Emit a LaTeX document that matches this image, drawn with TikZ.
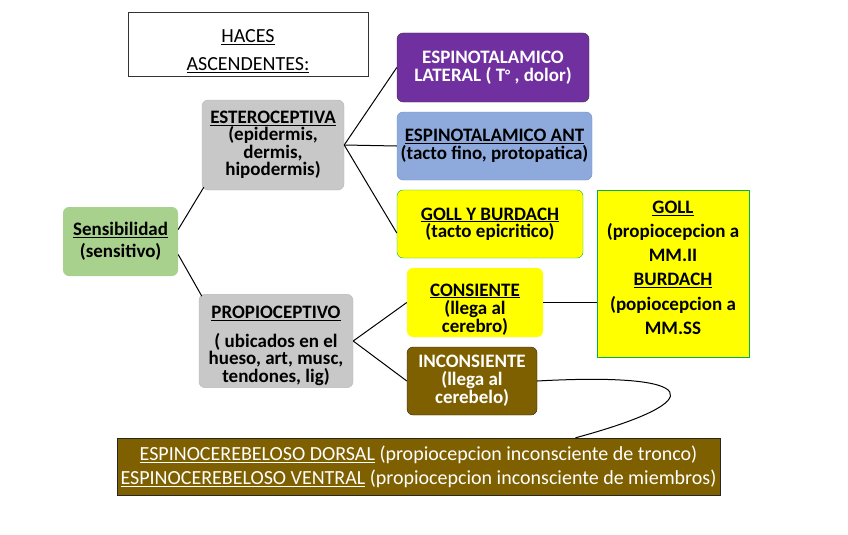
\documentclass[tikz,border=0pt]{standalone}
\usepackage{fontspec}
\setmainfont{Carlito}
\usepackage{xcolor}
\usepackage{tikz}
\usetikzlibrary{calc}
\definecolor{sverde}{HTML}{A9D18E}
\definecolor{sgris}{HTML}{C8C8C8}
\definecolor{sgrisb}{HTML}{B8B8B8}
\definecolor{smorado}{HTML}{7030A0}
\definecolor{sazul}{HTML}{8EA9DB}
\definecolor{sazulb}{HTML}{6F8FCB}
\definecolor{samarillo}{HTML}{FFFF00}
\definecolor{sborde}{HTML}{00B050}
\definecolor{scafe}{HTML}{7F6000}
\newcommand{\fs}[2]{\fontsize{#1}{#2}\selectfont}

\begin{document}
\begin{tikzpicture}[x=1pt,y=-1pt,
  caja/.style={rounded corners=6pt,align=center,inner sep=2pt,font=\bfseries},
  linea/.style={black,line width=1pt}]
  \useasboundingbox (0,0) rectangle (848,535);

  \node[draw=black!80,line width=0.8pt,align=center,minimum width=240pt,minimum height=60pt,font=\fs{20}{28}] (titulo) at (248,44) {\rule{0pt}{27pt}\underline{HACES}\\\underline{ASCENDENTES:}};

  \node[caja,fill=sverde,minimum width=115pt,minimum height=69pt,font=\bfseries\fs{19}{22}] (sens) at (120.5,241.5) {\underline{Sensibilidad}\\(sensitivo)};

  \node[caja,fill=sgris,draw=sgrisb,minimum width=142pt,minimum height=90pt,font=\bfseries\fs{19}{15.5}] (ester) at (273,145) {\underline{ESTEROCEPTIVA}\\(epidermis,\\dermis,\\hipodermis)};
  \node[caja,fill=sgris,draw=sgrisb,minimum width=154pt,minimum height=92pt,font=\bfseries\fs{19}{14.5}] (propio) at (276,341) {\rule{0pt}{22pt}\underline{PROPIOCEPTIVO}\\[12pt]( ubicados en el\\hueso, art, musc,\\tendones, lig)};

  \node[caja,fill=smorado,draw=black!80,text=white,minimum width=192pt,minimum height=69pt,font=\bfseries\fs{19}{18}] (lat) at (493,67.5) {ESPINOTALAMICO\\LATERAL ( T\raisebox{1pt}{\fs{15}{15}°} , dolor)};
  \node[caja,fill=sazul,draw=sazulb,minimum width=195pt,minimum height=68pt,font=\bfseries\fs{19}{18}] (ant) at (494.5,146) {\underline{ESPINOTALAMICO ANT}\\(tacto fino, protopatica)};
  \node[caja,fill=samarillo,draw=sborde,minimum width=186pt,minimum height=68pt,font=\bfseries\fs{19}{16}] (gb) at (490,224) {\underline{GOLL Y BURDACH}\\(tacto epicritico)};

  \node[caja,fill=samarillo,minimum width=136pt,minimum height=69pt,font=\bfseries\fs{19}{18}] (cons) at (475,302.5) {\rule{0pt}{26pt}\underline{CONSIENTE}\\(llega al\\cerebro)};
  \node[caja,fill=scafe,draw=black!85,text=white,minimum width=130pt,minimum height=68pt,font=\bfseries\fs{19}{18}] (incons) at (472,381) {INCONSIENTE\\(llega al\\cerebelo)};

  \node[fill=samarillo,draw=sborde,align=center,minimum width=152pt,minimum height=167pt,font=\bfseries\fs{19}{24.2}] (goll) at (673,273.5) {\underline{GOLL}\\(propiocepcion a\\MM.II\\\underline{BURDACH}\\(popiocepcion a\\MM.SS\rule[-12pt]{0pt}{12pt}};

  \node[fill=scafe,draw=black!85,text=white,align=center,minimum width=600pt,minimum height=57pt,font=\fs{20}{24}] (espino) at (418.5,466.5) {\underline{ESPINOCEREBELOSO DORSAL} (propiocepcion inconsciente de tronco)\\\underline{ESPINOCEREBELOSO VENTRAL} (propiocepcion inconsciente de miembros)};

  % ramas
  \draw[linea] ([yshift=12pt]sens.east) -- ([xshift=2pt,yshift=3pt]ester.south west);
  \draw[linea] ([yshift=-13pt]sens.east) -- ([xshift=3pt,yshift=-2pt]propio.north west);
  \draw[linea] (ester.east) -- (lat.west);
  \draw[linea] (ester.east) -- (ant.west);
  \draw[linea] (ester.east) -- ([yshift=-9pt]gb.west);
  \draw[linea] (propio.east) -- (cons.west);
  \draw[linea] (propio.east) -- (incons.west);
  \draw[linea] (cons.east) -- (goll.west |- cons.east);
  \draw[linea] (incons.east) .. controls (700,372) and (715,400) .. ([xshift=157pt]espino.north);
\end{tikzpicture}
\end{document}
